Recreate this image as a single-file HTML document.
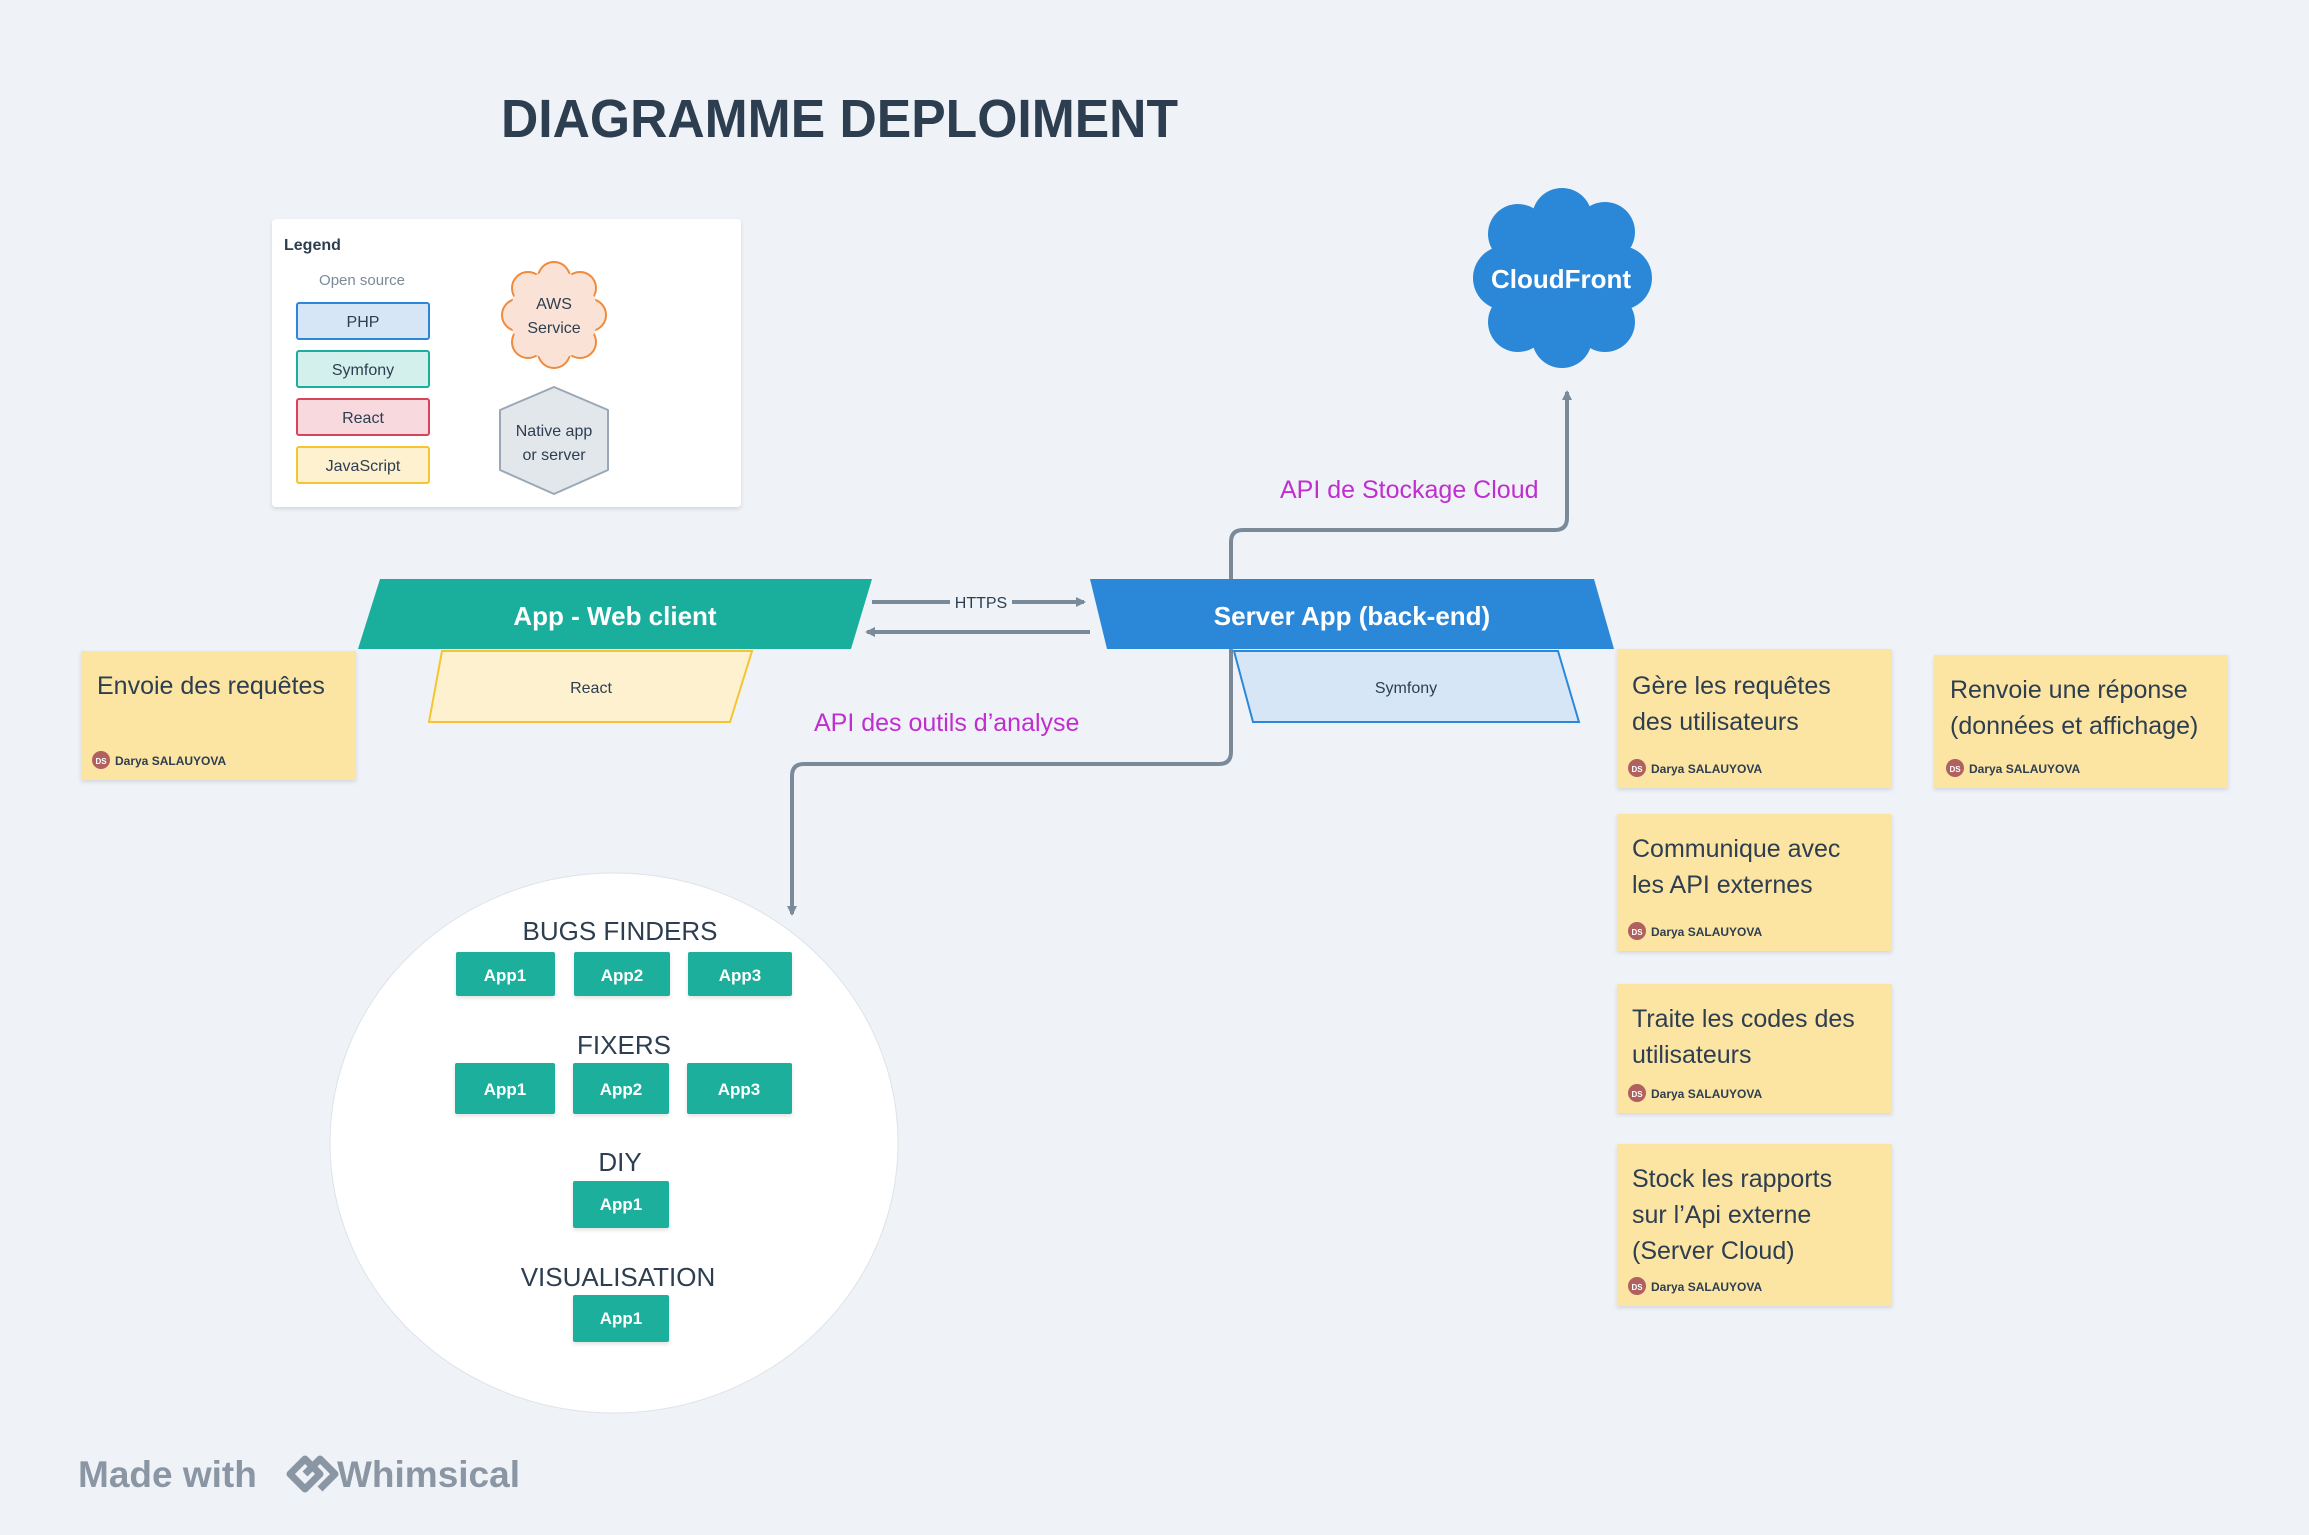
<!DOCTYPE html>
<html><head><meta charset="utf-8"><style>
html,body{margin:0;padding:0;background:#eff3f7;}
svg{display:block;font-family:"Liberation Sans",sans-serif;}
</style></head><body>
<svg width="2309" height="1535" viewBox="0 0 2309 1535" xmlns="http://www.w3.org/2000/svg">
<defs>
<filter id="sh" x="-5%" y="-5%" width="110%" height="115%"><feDropShadow dx="0" dy="2" stdDeviation="2" flood-color="#000" flood-opacity="0.12"/></filter>
<marker id="ah" markerWidth="10" markerHeight="10" refX="8" refY="5" orient="auto" markerUnits="userSpaceOnUse"><path d="M0,0 L10,5 L0,10 z" fill="#7b8a99"/></marker>
</defs>
<rect width="2309" height="1535" fill="#eff3f7"/>
<text x="501" y="137" font-size="54" font-weight="bold" fill="#2d3e50" textLength="677" lengthAdjust="spacingAndGlyphs">DIAGRAMME DEPLOIMENT</text>

<!-- legend -->
<rect x="272" y="219" width="469" height="288" rx="4" fill="#fff" filter="url(#sh)"/>
<text x="284" y="250" font-size="16" font-weight="bold" fill="#2d3e50">Legend</text>
<text x="362" y="285" font-size="15" fill="#7b8a99" text-anchor="middle">Open source</text>
<rect x="297" y="303" width="132" height="36" rx="2" fill="#d6e6f6" stroke="#2b88d8" stroke-width="2"/>
<text x="363" y="327" font-size="16" fill="#2d3e50" text-anchor="middle">PHP</text>
<rect x="297" y="351" width="132" height="36" rx="2" fill="#d3f0ec" stroke="#1aaf9c" stroke-width="2"/>
<text x="363" y="375" font-size="16" fill="#2d3e50" text-anchor="middle">Symfony</text>
<rect x="297" y="399" width="132" height="36" rx="2" fill="#f7d9de" stroke="#d6455d" stroke-width="2"/>
<text x="363" y="423" font-size="16" fill="#2d3e50" text-anchor="middle">React</text>
<rect x="297" y="447" width="132" height="36" rx="2" fill="#fdf1cf" stroke="#f5c431" stroke-width="2"/>
<text x="363" y="471" font-size="16" fill="#2d3e50" text-anchor="middle">JavaScript</text>
<g fill="#fae3d6" stroke="#f08a3c" stroke-width="2">
<circle cx="554" cy="315" r="42"/>
<circle cx="554" cy="278" r="16"/><circle cx="580" cy="288" r="16"/><circle cx="590" cy="315" r="16"/><circle cx="580" cy="342" r="16"/><circle cx="554" cy="352" r="16"/><circle cx="528" cy="342" r="16"/><circle cx="518" cy="315" r="16"/><circle cx="528" cy="288" r="16"/>
</g>
<circle cx="554" cy="315" r="44" fill="#fae3d6"/>
<text x="554" y="309" font-size="16" fill="#2d3e50" text-anchor="middle">AWS</text>
<text x="554" y="333" font-size="16" fill="#2d3e50" text-anchor="middle">Service</text>
<polygon points="554,387 608,410 608,470 554,494 500,470 500,410" fill="#e2e7ec" stroke="#9aa8b6" stroke-width="2" stroke-linejoin="round"/>
<text x="554" y="436" font-size="16" fill="#2d3e50" text-anchor="middle">Native app</text>
<text x="554" y="460" font-size="16" fill="#2d3e50" text-anchor="middle">or server</text>

<!-- CloudFront -->
<g fill="#2b88d8">
<circle cx="1562" cy="278" r="70"/>
<circle cx="1562" cy="218" r="30"/><circle cx="1605" cy="232" r="30"/><circle cx="1620" cy="278" r="32"/><circle cx="1605" cy="322" r="30"/><circle cx="1562" cy="338" r="30"/><circle cx="1518" cy="322" r="30"/><circle cx="1505" cy="278" r="32"/><circle cx="1518" cy="234" r="30"/>
</g>
<text x="1561" y="288" font-size="26" font-weight="bold" fill="#fff" text-anchor="middle">CloudFront</text>

<!-- connectors -->
<g fill="none" stroke="#7b8a99" stroke-width="4">
<path d="M1231,579 V542 Q1231,530 1243,530 H1555 Q1567,530 1567,518 V392" marker-end="url(#ah)"/>
<path d="M1231,649 V752 Q1231,764 1219,764 H804 Q792,764 792,776 V914" marker-end="url(#ah)"/>
<path d="M872,602 H950 M1012,602 H1084" marker-end="url(#ah)"/>
<path d="M1090,632 H867" marker-end="url(#ah)"/>
</g>
<text x="981" y="608" font-size="16" fill="#2d3e50" text-anchor="middle">HTTPS</text>
<text x="1280" y="498" font-size="25" fill="#c02ed0">API de Stockage Cloud</text>
<text x="814" y="731" font-size="25" fill="#c02ed0">API des outils d’analyse</text>

<!-- app web client -->
<polygon points="380,579 872,579 851,649 358,649" fill="#1aaf9c"/>
<text x="615" y="625" font-size="26" font-weight="bold" fill="#fff" text-anchor="middle">App - Web client</text>
<polygon points="442,651 752,651 730,722 429,722" fill="#fdf1cf" stroke="#f5c431" stroke-width="2"/>
<text x="591" y="693" font-size="16" fill="#2d3e50" text-anchor="middle">React</text>

<!-- server -->
<polygon points="1090,579 1594,579 1614,649 1107,649" fill="#2b88d8"/>
<text x="1352" y="625" font-size="26" font-weight="bold" fill="#fff" text-anchor="middle">Server App (back-end)</text>
<polygon points="1234,651 1558,651 1579,722 1253,722" fill="#d6e6f6" stroke="#2b88d8" stroke-width="2"/>
<text x="1406" y="693" font-size="16" fill="#2d3e50" text-anchor="middle">Symfony</text>

<!-- stickies -->
<g font-size="25" fill="#2d3e50">
<rect x="81" y="651" width="275" height="129" fill="#fce5a3" filter="url(#sh)"/>
<text x="97" y="694">Envoie des requêtes</text>
<rect x="1617" y="649" width="275" height="139" fill="#fce5a3" filter="url(#sh)"/>
<text x="1632" y="694">Gère les requêtes</text><text x="1632" y="730">des utilisateurs</text>
<rect x="1934" y="655" width="294" height="133" fill="#fce5a3" filter="url(#sh)"/>
<text x="1950" y="698">Renvoie une réponse</text><text x="1950" y="734">(données et affichage)</text>
<rect x="1617" y="814" width="275" height="137" fill="#fce5a3" filter="url(#sh)"/>
<text x="1632" y="857">Communique avec</text><text x="1632" y="893">les API externes</text>
<rect x="1617" y="984" width="275" height="129" fill="#fce5a3" filter="url(#sh)"/>
<text x="1632" y="1027">Traite les codes des</text><text x="1632" y="1063">utilisateurs</text>
<rect x="1617" y="1144" width="275" height="162" fill="#fce5a3" filter="url(#sh)"/>
<text x="1632" y="1187">Stock les rapports</text><text x="1632" y="1223">sur l’Api externe</text><text x="1632" y="1259">(Server Cloud)</text>
</g>
<g font-size="12" font-weight="bold" fill="#2d3e50">
<circle cx="101" cy="760" r="9" fill="#b0605f"/><text x="101" y="764" font-size="8" fill="#fff" text-anchor="middle">DS</text><text x="115" y="765">Darya SALAUYOVA</text>
<circle cx="1637" cy="768" r="9" fill="#b0605f"/><text x="1637" y="772" font-size="8" fill="#fff" text-anchor="middle">DS</text><text x="1651" y="773">Darya SALAUYOVA</text>
<circle cx="1955" cy="768" r="9" fill="#b0605f"/><text x="1955" y="772" font-size="8" fill="#fff" text-anchor="middle">DS</text><text x="1969" y="773">Darya SALAUYOVA</text>
<circle cx="1637" cy="931" r="9" fill="#b0605f"/><text x="1637" y="935" font-size="8" fill="#fff" text-anchor="middle">DS</text><text x="1651" y="936">Darya SALAUYOVA</text>
<circle cx="1637" cy="1093" r="9" fill="#b0605f"/><text x="1637" y="1097" font-size="8" fill="#fff" text-anchor="middle">DS</text><text x="1651" y="1098">Darya SALAUYOVA</text>
<circle cx="1637" cy="1286" r="9" fill="#b0605f"/><text x="1637" y="1290" font-size="8" fill="#fff" text-anchor="middle">DS</text><text x="1651" y="1291">Darya SALAUYOVA</text>
</g>

<!-- circle group -->
<ellipse cx="614" cy="1143" rx="284" ry="270" fill="#fff" stroke="#dde3e9" stroke-width="1"/>
<g font-size="26" fill="#2d3e50" text-anchor="middle">
<text x="620" y="940">BUGS FINDERS</text>
<text x="624" y="1054">FIXERS</text>
<text x="620" y="1171">DIY</text>
<text x="618" y="1286">VISUALISATION</text>
</g>
<g fill="#1aaf9c" filter="url(#sh)">
<rect x="456" y="952" width="99" height="44" rx="2"/><rect x="574" y="952" width="96" height="44" rx="2"/><rect x="688" y="952" width="104" height="44" rx="2"/>
<rect x="455" y="1063" width="100" height="51" rx="2"/><rect x="573" y="1063" width="96" height="51" rx="2"/><rect x="687" y="1063" width="105" height="51" rx="2"/>
<rect x="573" y="1181" width="96" height="47" rx="2"/>
<rect x="573" y="1295" width="96" height="47" rx="2"/>
</g>
<g font-size="17" font-weight="bold" fill="#fff" text-anchor="middle">
<text x="505" y="981">App1</text><text x="622" y="981">App2</text><text x="740" y="981">App3</text>
<text x="505" y="1095">App1</text><text x="621" y="1095">App2</text><text x="739" y="1095">App3</text>
<text x="621" y="1210">App1</text>
<text x="621" y="1324">App1</text>
</g>

<!-- footer -->
<text x="78" y="1487" font-size="37" font-weight="bold" fill="#8a96a3">Made with</text>
<g fill="none" stroke="#8a96a3" stroke-width="7" stroke-linejoin="round">
<path d="M290,1474 L305,1459 L320,1474 L305,1489 Z"/><path d="M305,1474 L320,1459 L335,1474 L320,1489"/>
</g>
<text x="337" y="1487" font-size="37" font-weight="bold" fill="#8a96a3">Whimsical</text>
</svg>
</body></html>
